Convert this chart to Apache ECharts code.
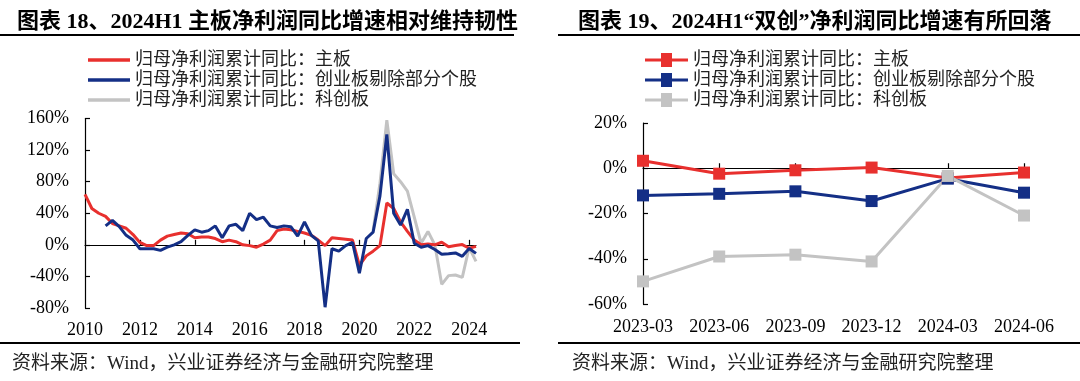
<!DOCTYPE html>
<html><head><meta charset="utf-8">
<script src="https://cdn.jsdelivr.net/npm/echarts@6/dist/echarts.min.js"></script>
<style>html,body{margin:0;padding:0;background:#fff}#c{width:1080px;height:381px}</style>
</head><body><div id="c"></div>
<script>
// ---- data ----
const quarters = ['2010-03','2010-06','2010-09','2010-12','2011-03','2011-06','2011-09','2011-12',
'2012-03','2012-06','2012-09','2012-12','2013-03','2013-06','2013-09','2013-12',
'2014-03','2014-06','2014-09','2014-12','2015-03','2015-06','2015-09','2015-12',
'2016-03','2016-06','2016-09','2016-12','2017-03','2017-06','2017-09','2017-12',
'2018-03','2018-06','2018-09','2018-12','2019-03','2019-06','2019-09','2019-12',
'2020-03','2020-06','2020-09','2020-12','2021-03','2021-06','2021-09','2021-12',
'2022-03','2022-06','2022-09','2022-12','2023-03','2023-06','2023-09','2023-12',
'2024-03','2024-06'];
const mainBoard = [64,46,40,36,27,24,21,13,3,-1,-1,6,11,13,15,14,9,10,10,8,4,6,4,0,-1,-3,1,6,
18,20,19,17,15,12,6,-1,9,8,7,6,-26,-14,-8,-1,53,46,29,17,6,0,1,0,3.3,-2.4,-0.9,0.3,-4.3,-1.9];
const chinext = [null,null,null,24,31,23,12,6,-5,-5,-5,-7,-3,0,4,12,19,16,18,24,9,24,26,18,40,32,35,24,
22,24,23,11,29,12,5,-79,-5,-8,-1,3,-36,8,16,62,140,40,25,45,2,-3,-1,-6,-12,-11.3,-10.2,-14.5,-4.6,-10.8];
const star = [null,null,null,null,null,null,null,null,null,null,null,null,null,null,null,null,
null,null,null,null,null,null,null,null,null,null,null,null,null,null,null,null,
null,null,null,null,null,null,null,null,null,null,18,78,158,90,80,68,35,2,17,0,-50,-39,-38.2,-41.2,-3.4,-20.9];
const recentQuarters = ['2023-03','2023-06','2023-09','2023-12','2024-03','2024-06'];
const recentMain = [3.3,-2.4,-0.9,0.3,-4.3,-1.9];
const recentChinext = [-12,-11.3,-10.2,-14.5,-4.6,-10.8];
const recentStar = [-50,-39,-38.2,-41.2,-3.4,-20.9];
const names = ['归母净利润累计同比：主板','归母净利润累计同比：创业板剔除部分个股','归母净利润累计同比：科创板'];
const title1 = '图表 18、2024H1 主板净利润同比增速相对维持韧性';
const title2 = '图表 19、2024H1“双创”净利润同比增速有所回落';
const source = '资料来源：Wind，兴业证券经济与金融研究院整理';

// ---- styles ----
const RED = '#E8302E', BLUE = '#142F86', GRAY = '#C3C3C3';
const serif = "'Liberation Serif','Times New Roman',serif";
const cjk = "'Liberation Serif','Noto Sans CJK SC',sans-serif";
const axisLabel = {fontFamily: serif, fontSize: 18, color: '#000'};
const legendText = {fontSize: 18, lineHeight: 20, fontFamily: cjk, color: '#222'};
const markerIcon = 'path://M0,5.5H16V0H27V5.5H43V8.5H27V14H16V8.5H0Z';

function yAxis(grid, min, max, interval) {
  return {type: 'value', gridIndex: grid, min: min, max: max, interval: interval,
    axisLine: {show: true, lineStyle: {color: '#000', width: 1.2}},
    axisTick: {show: true, inside: true, length: 5, lineStyle: {color: '#000', width: 1.2}},
    splitLine: {show: false},
    axisLabel: Object.assign({margin: 16, formatter: v => v + '%'}, axisLabel)};
}

const chart = echarts.init(document.getElementById('c'), null, {renderer: 'canvas'});
chart.setOption({
  animation: false,
  backgroundColor: '#fff',
  title: [
    {text: title1, left: 12, top: 6, textStyle: {fontSize: 22, fontWeight: 'bold', fontFamily: cjk, color: '#000'}},
    {text: title2, left: 573, top: 6, textStyle: {fontSize: 22, fontWeight: 'bold', fontFamily: cjk, color: '#000'}}
  ],
  legend: [
    {data: names.map(n => ({name: n, icon: 'rect'})), orient: 'vertical', left: 83, top: 45, itemWidth: 42, itemHeight: 3.5, itemGap: 0,
     textStyle: legendText},
    {data: names.map(n => ({name: n, icon: markerIcon})), orient: 'vertical', left: 640, top: 45, itemWidth: 43, itemHeight: 14, itemGap: 0,
     textStyle: legendText}
  ],
  grid: [
    {left: 85, top: 118.5, width: 391, height: 189.5},
    {left: 643, top: 123, width: 381, height: 181}
  ],
  xAxis: [
    {type: 'category', gridIndex: 0, data: quarters, boundaryGap: false, position: 'bottom',
     axisLine: {onZero: true, lineStyle: {color: '#000', width: 1.2}},
     axisTick: {inside: true, length: 5, interval: 7, lineStyle: {color: '#000', width: 1.2}},
     axisLabel: {show: false}},
    {type: 'category', gridIndex: 0, data: quarters, boundaryGap: false, position: 'bottom',
     axisLine: {show: false, onZero: false}, axisTick: {show: false},
     axisLabel: Object.assign({interval: 7, margin: 13, formatter: v => v.slice(0, 4)}, axisLabel)},
    {type: 'category', gridIndex: 1, data: recentQuarters, boundaryGap: false, position: 'bottom',
     axisLine: {onZero: true, lineStyle: {color: '#000', width: 1.2}},
     axisTick: {inside: true, length: 5, interval: 0, lineStyle: {color: '#000', width: 1.2}},
     axisLabel: {show: false}},
    {type: 'category', gridIndex: 1, data: recentQuarters, boundaryGap: false, position: 'bottom',
     axisLine: {show: false, onZero: false}, axisTick: {show: false},
     axisLabel: Object.assign({interval: 0, margin: 14, hideOverlap: false}, axisLabel)}
  ],
  yAxis: [yAxis(0, -80, 160, 40), yAxis(1, -60, 20, 20)],
  series: [
    {name: names[0], type: 'line', xAxisIndex: 0, yAxisIndex: 0, data: mainBoard, symbol: 'none', z: 3,
     lineStyle: {color: RED, width: 3}, itemStyle: {color: RED}},
    {name: names[1], type: 'line', xAxisIndex: 0, yAxisIndex: 0, data: chinext, symbol: 'none', z: 4,
     lineStyle: {color: BLUE, width: 3}, itemStyle: {color: BLUE}},
    {name: names[2], type: 'line', xAxisIndex: 0, yAxisIndex: 0, data: star, symbol: 'none', z: 2,
     lineStyle: {color: GRAY, width: 3}, itemStyle: {color: GRAY}},
    {name: names[0], type: 'line', xAxisIndex: 2, yAxisIndex: 1, data: recentMain, symbol: 'rect', symbolSize: 12,
     lineStyle: {color: RED, width: 3}, itemStyle: {color: RED}},
    {name: names[1], type: 'line', xAxisIndex: 2, yAxisIndex: 1, data: recentChinext, symbol: 'rect', symbolSize: 12,
     lineStyle: {color: BLUE, width: 3}, itemStyle: {color: BLUE}},
    {name: names[2], type: 'line', xAxisIndex: 2, yAxisIndex: 1, data: recentStar, symbol: 'rect', symbolSize: 12,
     lineStyle: {color: GRAY, width: 3}, itemStyle: {color: GRAY}}
  ],
  graphic: [
    {type: 'line', shape: {x1: 0, y1: 35, x2: 514, y2: 35}, style: {stroke: '#000', lineWidth: 2}},
    {type: 'line', shape: {x1: 558, y1: 35, x2: 1080, y2: 35}, style: {stroke: '#000', lineWidth: 2}},
    {type: 'line', shape: {x1: 0, y1: 343, x2: 520, y2: 343}, style: {stroke: '#000', lineWidth: 2}},
    {type: 'line', shape: {x1: 558, y1: 343, x2: 1080, y2: 343}, style: {stroke: '#000', lineWidth: 2}},
    {type: 'text', left: 12, top: 355, style: {text: source, font: "19px 'Liberation Serif','Noto Sans CJK SC'", fill: '#222'}},
    {type: 'text', left: 572, top: 355, style: {text: source, font: "19px 'Liberation Serif','Noto Sans CJK SC'", fill: '#222'}}
  ]
});
</script></body></html>
